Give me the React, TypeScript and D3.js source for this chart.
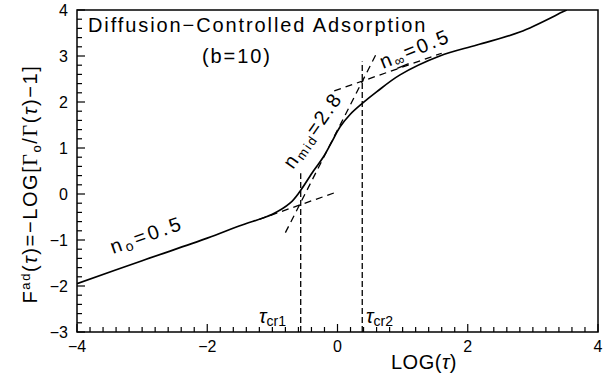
import React from "react";
import * as d3 from "d3";

// Main adsorption curve: LOG(tau) vs F_ad
const curveX = [-4, -3, -2, -1.5, -1.0, -0.73, -0.58, -0.37, -0.22, -0.1, 0.04, 0.2, 0.38, 0.6, 0.96, 1.57, 2.14, 2.8, 3.46, 3.52];
const curveY = [-1.95, -1.45, -0.96, -0.69, -0.44, -0.2, 0.05, 0.5, 0.8, 1.1, 1.46, 1.74, 1.97, 2.22, 2.59, 3.0, 3.24, 3.52, 3.96, 4.0];

// Dashed asymptote segments [x1, y1, x2, y2]
const lowLine = [-1.2, -0.55, 0.0, 0.05];
const midLine = [-0.8, -0.84, 0.6, 3.06];
const highLine = [-0.05, 2.24, 1.6, 3.06];
// Critical times (vertical dashed) [x, yBottom, yTop]
const tauCr1 = [-0.565, -3, 0.45];
const tauCr2 = [0.38, -3, 2.88];

const xMajor = [-4, -2, 0, 2, 4];
const yMajor = [-3, -2, -1, 0, 1, 2, 3, 4];

export default function App() {
  const W = 608, H = 379;
  const x = d3.scaleLinear().domain([-4, 4]).range([77, 598]);
  const y = d3.scaleLinear().domain([-3, 4]).range([332, 10]);
  const pts: [number, number][] = curveX.map((v, i) => [v, curveY[i]]);
  const line = d3.line<[number, number]>().x(d => x(d[0])).y(d => y(d[1])).curve(d3.curveCatmullRom.alpha(0.5));
  const xMinor = d3.range(-4, 4.001, 0.2).map(v => +v.toFixed(2));
  const yMinor = d3.range(-3, 4.001, 0.2).map(v => +v.toFixed(2));
  const font = "'Liberation Sans', Arial, sans-serif";
  const seg = (s: number[]) => (
    <line x1={x(s[0])} y1={y(s[1])} x2={x(s[2])} y2={y(s[3])} stroke="#000" strokeWidth={1.3} strokeDasharray="7,5" />
  );
  const vseg = (s: number[]) => (
    <line x1={x(s[0])} y1={y(s[1])} x2={x(s[0])} y2={y(s[2])} stroke="#000" strokeWidth={1.3} strokeDasharray="6,3" />
  );
  return (
    <svg width={W} height={H} style={{ position: "absolute", left: 0, top: 0, background: "#fff" }} fontFamily={font}>
      <rect x={0} y={0} width={W} height={H} fill="#fff" />
      <defs>
        <clipPath id="plot"><rect x={77} y={10} width={521} height={322} /></clipPath>
      </defs>
      {/* frame */}
      <rect x={77} y={10} width={521} height={322} fill="none" stroke="#000" strokeWidth={1.5} />
      {/* ticks */}
      {xMinor.map(v => (
        <line key={"xm" + v} x1={x(v)} x2={x(v)} y1={332} y2={332 - (xMajor.includes(v) ? 8 : 5)} stroke="#000" strokeWidth={1.2} />
      ))}
      {yMinor.map(v => (
        <line key={"ym" + v} x1={77} x2={77 + (yMajor.includes(v) ? 8 : 5)} y1={y(v)} y2={y(v)} stroke="#000" strokeWidth={1.2} />
      ))}
      {xMajor.map(v => (
        <text key={"xl" + v} x={x(v)} y={352} fontSize={16} textAnchor="middle">{v < 0 ? "\u2212" + Math.abs(v) : v}</text>
      ))}
      {yMajor.map(v => (
        <text key={"yl" + v} x={68} y={y(v) + 6} fontSize={16} textAnchor="end">{v < 0 ? "\u2212" + Math.abs(v) : v}</text>
      ))}
      {/* curve and construction lines */}
      <g clipPath="url(#plot)">
        <path d={line(pts) || ""} fill="none" stroke="#000" strokeWidth={1.7} />
        {seg(lowLine)}
        {seg(midLine)}
        {seg(highLine)}
        {vseg(tauCr1)}
        {vseg(tauCr2)}
      </g>
      {/* title */}
      <text x={88} y={32} fontSize={20} letterSpacing={1.9}>Diffusion{"\u2212"}Controlled  Adsorption</text>
      <text x={202} y={63} fontSize={20} letterSpacing={1.9}>(b=10)</text>
      {/* annotations */}
      <text transform="translate(113,254) rotate(-19.5)" fontSize={20} letterSpacing={3}>n<tspan fontSize={14} dy={3}>o</tspan><tspan dy={-3}>=0.5</tspan></text>
      <text transform="translate(383,69) rotate(-22)" fontSize={20} letterSpacing={2.3}>n<tspan fontSize={14} dy={3} textDecoration="underline">{"\u221E"}</tspan><tspan dy={-3}>=0.5</tspan></text>
      <text transform="translate(293,170) rotate(-55)" fontSize={20} letterSpacing={2}>n<tspan fontSize={13} dy={3}>mid</tspan><tspan dy={-3}>=2.8</tspan></text>
      <text x={259} y={323} fontSize={20} fontStyle="italic">{"\u03C4"}<tspan fontSize={14} fontStyle="normal" dy={3}>cr1</tspan></text>
      <text x={366} y={323} fontSize={20} fontStyle="italic">{"\u03C4"}<tspan fontSize={14} fontStyle="normal" dy={3}>cr2</tspan></text>
      {/* axis labels */}
      <text x={424} y={369} fontSize={20} letterSpacing={0.5} textAnchor="middle">LOG(<tspan fontStyle="italic">{"\u03C4"}</tspan>)</text>
      <text transform="translate(37,184) rotate(-90)" fontSize={20} letterSpacing={1.6} textAnchor="middle">
        F<tspan fontSize={13} dy={-7}>ad</tspan><tspan dy={7}>(</tspan><tspan fontStyle="italic">{"\u03C4"}</tspan>)={"\u2212"}LOG[<tspan fontFamily="'Liberation Serif', serif">{"\u0393"}</tspan><tspan fontSize={13} dy={4}>o</tspan><tspan dy={-4}>/</tspan><tspan fontFamily="'Liberation Serif', serif">{"\u0393"}</tspan>(<tspan fontStyle="italic">{"\u03C4"}</tspan>){"\u2212"}1]
      </text>
    </svg>
  );
}
